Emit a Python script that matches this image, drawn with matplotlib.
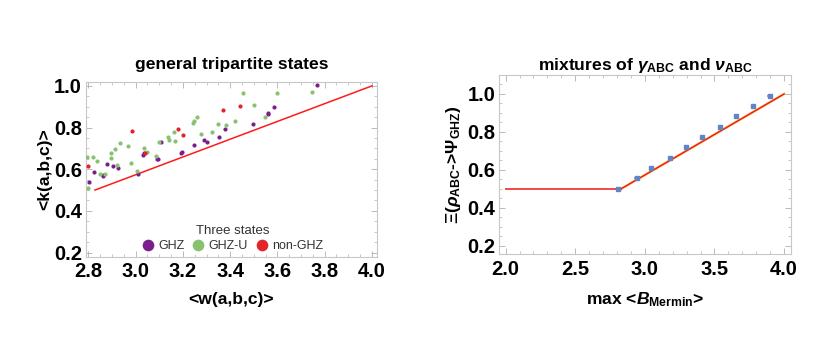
import matplotlib
matplotlib.use("Agg")
import matplotlib.pyplot as plt
from matplotlib.ticker import MultipleLocator

plt.rcParams['font.family'] = ['Liberation Sans', 'DejaVu Sans']
plt.rcParams['mathtext.fontset'] = 'custom'
plt.rcParams['mathtext.rm'] = 'Liberation Sans:bold'
plt.rcParams['mathtext.bf'] = 'Liberation Sans:bold'
plt.rcParams['mathtext.it'] = 'Liberation Sans:italic:bold'
plt.rcParams['mathtext.sf'] = 'Liberation Sans:bold'

# ---- left panel data ----
ghz_x = [2.804, 2.824, 2.861, 2.863, 2.880, 2.903, 2.924, 3.009, 3.033, 3.037, 3.089, 3.095,
         3.108, 3.191, 3.198, 3.249, 3.290, 3.304, 3.353, 3.377, 3.498, 3.560, 3.562, 3.586, 3.769]
ghz_y = [0.539, 0.589, 0.573, 0.568, 0.625, 0.616, 0.606, 0.576, 0.667, 0.679, 0.648, 0.651,
         0.732, 0.676, 0.684, 0.718, 0.740, 0.730, 0.753, 0.791, 0.817, 0.871, 0.863, 0.900, 1.002]
ghzu_x = [2.796, 2.799, 2.821, 2.835, 2.849, 2.871, 2.895, 2.895, 2.913, 2.920, 2.935, 2.968,
          2.981, 3.006, 3.036, 3.050, 3.085, 3.099, 3.139, 3.140, 3.164, 3.165, 3.242, 3.247,
          3.260, 3.275, 3.325, 3.349, 3.381, 3.422, 3.455, 3.501, 3.549, 3.598, 3.747]
ghzu_y = [0.660, 0.510, 0.657, 0.641, 0.576, 0.577, 0.652, 0.679, 0.699, 0.620, 0.726, 0.711,
          0.630, 0.590, 0.702, 0.681, 0.663, 0.732, 0.756, 0.740, 0.780, 0.735, 0.821, 0.833,
          0.852, 0.767, 0.781, 0.815, 0.810, 0.831, 0.968, 0.907, 0.852, 0.965, 0.973]
nonghz_x = [2.797, 2.986, 3.040, 3.178, 3.202, 3.371, 3.442]
nonghz_y = [0.617, 0.783, 0.679, 0.791, 0.764, 0.882, 0.904]
bound_left_x = [2.828, 4.0]
bound_left_y = [0.5, 1.0]

# ---- right panel data ----
mix_x = [2.810, 2.941, 3.047, 3.181, 3.296, 3.411, 3.540, 3.655, 3.780, 3.899]
mix_y = [0.502, 0.558, 0.612, 0.665, 0.721, 0.775, 0.828, 0.884, 0.935, 0.989]
flat_x = [2.0, 2.828]
flat_y = [0.5, 0.5]
diag_x = [2.828, 4.0]
diag_y = [0.5, 1.0]

purple = '#7B1E8C'
green = '#86C270'
red = '#E0242A'
blue = '#5F85C6'
frame_c = '#C8C8C8'
tick_c = '#B0B0B0'

fig = plt.figure(figsize=(8.3, 3.6), dpi=100)
ax1 = fig.add_axes([0.1036, 0.2869, 0.3502, 0.4861])
ax2 = fig.add_axes([0.6016, 0.2936, 0.3511, 0.4981])


def style(ax):
    for s in ax.spines.values():
        s.set_color(frame_c)
        s.set_linewidth(0.8)
    ax.tick_params(which='both', direction='in', top=True, right=True, color=tick_c,
                   labelsize=14.5, pad=3)
    ax.tick_params(which='major', length=4, width=0.6)
    ax.tick_params(which='minor', length=2, width=0.5)
    ax.tick_params(axis='x', which='major', pad=4)
    for lab in ax.get_xticklabels() + ax.get_yticklabels():
        lab.set_fontweight('bold')


# Left panel
ax1.scatter(ghz_x, ghz_y, s=9, color=purple, label='GHZ', zorder=3, linewidths=0)
ax1.scatter(ghzu_x, ghzu_y, s=9, color=green, label='GHZ-U', zorder=3, linewidths=0)
ax1.scatter(nonghz_x, nonghz_y, s=9, color=red, label='non-GHZ', zorder=3, linewidths=0)
ax1.plot(bound_left_x, bound_left_y, color='#FF1A1A', lw=1.1, zorder=2)
ax1.set_xlim(2.79, 4.02)
ax1.set_ylim(0.18, 1.02)
ax1.xaxis.set_minor_locator(MultipleLocator(0.05))
ax1.yaxis.set_minor_locator(MultipleLocator(0.05))
ax1.set_xticks([2.8, 3.0, 3.2, 3.4, 3.6, 3.8, 4.0])
ax1.set_xticklabels(['2.8', '3.0', '3.2', '3.4', '3.6', '3.8', '4.0'])
ax1.set_yticks([0.2, 0.4, 0.6, 0.8, 1.0])
ax1.set_yticklabels(['0.2', '0.4', '0.6', '0.8', '1.0'])
style(ax1)
ax1.set_title('general tripartite states', fontsize=12.6, fontweight='bold', pad=9)
ax1.set_xlabel('<w(a,b,c)>', fontsize=12.6, fontweight='bold', labelpad=8)
ax1.set_ylabel('<k(a,b,c)>', fontsize=12.6, fontweight='bold', labelpad=1)
leg = ax1.legend(title='Three states', ncol=3, loc='center', bbox_to_anchor=(0.506, 0.105),
                 frameon=False, fontsize=9, title_fontsize=9.5, markerscale=2.8,
                 handlelength=0.8, handletextpad=0.45, columnspacing=0.7,
                 borderpad=0.1, labelspacing=0.2)
leg.get_title().set_color('#333333')
for t in leg.get_texts():
    t.set_color('#333333')

# Right panel
ax2.plot(flat_x, flat_y, color='#F04848', lw=1.4, zorder=2)
ax2.plot(diag_x, diag_y, color='#FF8A00', lw=1.8, zorder=2, alpha=0.6)
ax2.plot(diag_x, diag_y, color='#E8200E', lw=1.0, zorder=2)
ax2.errorbar(mix_x, mix_y, xerr=0.018, fmt='s', ms=2.6, color=blue, ecolor='#8FA8D8',
             elinewidth=1.6, capsize=0, mec=blue, zorder=3)
ax2.set_xlim(1.955, 4.048)
ax2.set_ylim(0.156, 1.10)
ax2.set_xticks([2.0, 2.5, 3.0, 3.5, 4.0])
ax2.set_xticklabels(['2.0', '2.5', '3.0', '3.5', '4.0'])
ax2.xaxis.set_minor_locator(MultipleLocator(0.1))
ax2.set_yticks([0.2, 0.4, 0.6, 0.8, 1.0])
ax2.set_yticklabels(['0.2', '0.4', '0.6', '0.8', '1.0'])
ax2.yaxis.set_minor_locator(MultipleLocator(0.05))
style(ax2)
ax2.set_title(r'mixtures of $\gamma_{\mathrm{ABC}}$ and $\nu_{\mathrm{ABC}}$',
              fontsize=12.6, fontweight='bold', pad=1)
ax2.set_xlabel(r'max <$B_{\mathrm{Mermin}}$>', fontsize=12.6, fontweight='bold', labelpad=8)
ax2.set_ylabel(r'$\Xi(\rho_{\mathrm{ABC}}$->$\Psi_{\mathrm{GHZ}})$', fontsize=12.6,
               fontweight='bold', labelpad=3)

fig.savefig('out.png', dpi=100)
